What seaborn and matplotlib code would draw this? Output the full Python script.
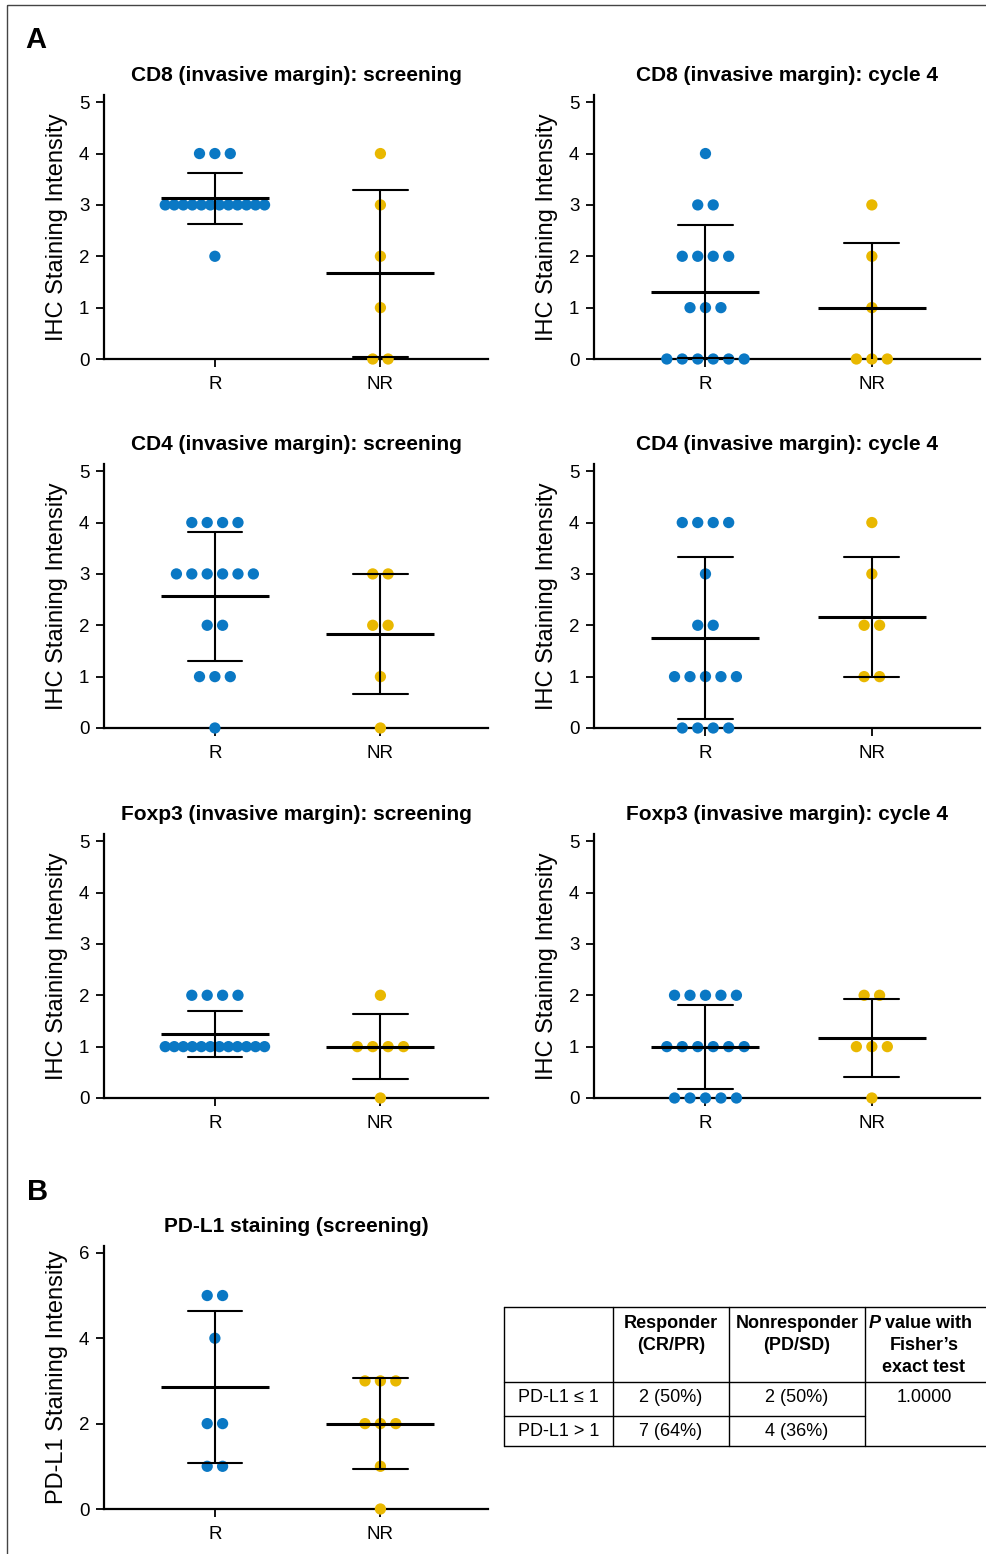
import numpy as np
import pandas as pd
import matplotlib
matplotlib.use("Agg")
import matplotlib.pyplot as plt
from matplotlib.patches import Rectangle
import seaborn as sns

# values
groups = ["R", "NR"]

cd8_screen_r = [4, 4, 4, 3, 3, 3, 3, 3, 3, 3, 3, 3, 3, 3, 3, 2]
cd8_screen_nr = [4, 3, 2, 1, 0, 0]
cd8_c4_r = [4, 3, 3, 2, 2, 2, 2, 1, 1, 1, 0, 0, 0, 0, 0, 0]
cd8_c4_nr = [3, 2, 1, 0, 0, 0]
cd4_screen_r = [4, 4, 4, 4, 3, 3, 3, 3, 3, 3, 2, 2, 1, 1, 1, 0]
cd4_screen_nr = [3, 3, 2, 2, 1, 0]
cd4_c4_r = [4, 4, 4, 4, 3, 2, 2, 1, 1, 1, 1, 1, 0, 0, 0, 0]
cd4_c4_nr = [4, 3, 2, 2, 1, 1]
foxp3_screen_r = [2, 2, 2, 2, 1, 1, 1, 1, 1, 1, 1, 1, 1, 1, 1, 1]
foxp3_screen_nr = [2, 1, 1, 1, 1, 0]
foxp3_c4_r = [2, 2, 2, 2, 2, 1, 1, 1, 1, 1, 1, 0, 0, 0, 0, 0]
foxp3_c4_nr = [2, 2, 1, 1, 1, 0]
pdl1_r = [5, 5, 4, 2, 2, 1, 1]
pdl1_nr = [3, 3, 3, 2, 2, 2, 1, 0]

titles_a = [
    "CD8 (invasive margin): screening", "CD8 (invasive margin): cycle 4",
    "CD4 (invasive margin): screening", "CD4 (invasive margin): cycle 4",
    "Foxp3 (invasive margin): screening", "Foxp3 (invasive margin): cycle 4",
]
title_b = "PD-L1 staining (screening)"

# table in panel B
table_header = [["Responder", "(CR/PR)"], ["Nonresponder", "(PD/SD)"],
                ["value with", "Fisher\u2019s", "exact test"]]
table_rows = ["PD-L1 \u2264 1", "PD-L1 > 1"]
table_resp = ["2 (50%)", "7 (64%)"]
table_nonresp = ["2 (50%)", "4 (36%)"]
p_value = "1.0000"

BLUE = "#0a78c4"
YELLOW = "#e9b800"
palette = {"R": BLUE, "NR": YELLOW}

sns.set_style("ticks")
plt.rcParams["font.family"] = ["Liberation Sans", "DejaVu Sans"]
plt.rcParams["text.color"] = "black"
plt.rcParams["axes.labelcolor"] = "black"
plt.rcParams["xtick.color"] = "black"
plt.rcParams["ytick.color"] = "black"

W, H = 986, 1554
fig = plt.figure(figsize=(W / 100, H / 100), dpi=100)


def px_axes(left, top, right, bottom):
    return fig.add_axes([left / W, 1 - bottom / H, (right - left) / W, (bottom - top) / H])


def spread(df, step=0.093, max_span=0.6):
    # GraphPad-like scatter: equal values side by side, squeezed when crowded
    off = np.zeros(len(df))
    for _, idx in df.groupby(["pos", "value"]).groups.items():
        n = len(idx)
        d = step if n < 2 else min(step, max_span / (n - 1))
        off[df.index.get_indexer(idx)] = (np.arange(n) - (n - 1) / 2) * d
    return df["pos"] + off


def draw(ax, r_vals, nr_vals, title, ylabel, yticks, ytop):
    df = pd.DataFrame({"group": ["R"] * len(r_vals) + ["NR"] * len(nr_vals),
                       "value": r_vals + nr_vals})
    df["pos"] = df["group"].map({"R": 0, "NR": 1})
    df["x"] = spread(df)

    sns.scatterplot(data=df, x="x", y="value", hue="group", palette=palette,
                    s=66, linewidth=0, legend=False, clip_on=False, zorder=2.6, ax=ax)
    sns.pointplot(data=df, x="pos", y="value", native_scale=True, orient="x",
                  errorbar="sd", capsize=0.33, color="black", marker="_",
                  markersize=78, markeredgewidth=2.2, linestyle="none", zorder=3,
                  err_kws={"linewidth": 1.5, "zorder": 3}, ax=ax)

    ax.set_xlim(-0.67, 1.65)
    ax.set_ylim(0, ytop)
    ax.set_xticks([0, 1], groups)
    ax.set_yticks(yticks)
    ax.set_xlabel("")
    ax.set_ylabel(ylabel, fontsize=17, color="black")
    ax.yaxis.set_label_coords(-0.094, 0.5)
    ax.set_title(title, fontsize=15, fontweight="bold", pad=10, color="black")
    sns.despine(ax=ax)
    for s in ["left", "bottom"]:
        ax.spines[s].set_linewidth(1.6)
        ax.spines[s].set_color("black")
    ax.tick_params(direction="out", length=5.5, width=1.3, color="black",
                   labelsize=13.5, labelcolor="black")
    ax.tick_params(axis="x", pad=7)
    ax.tick_params(axis="y", pad=5)


panel_a = [
    (cd8_screen_r, cd8_screen_nr), (cd8_c4_r, cd8_c4_nr),
    (cd4_screen_r, cd4_screen_nr), (cd4_c4_r, cd4_c4_nr),
    (foxp3_screen_r, foxp3_screen_nr), (foxp3_c4_r, foxp3_c4_nr),
]
rows_px = [(95, 359), (464, 728), (834, 1098)]
cols_px = [(104, 488), (594, 980)]

for i, (r_vals, nr_vals) in enumerate(panel_a):
    top, bottom = rows_px[i // 2]
    left, right = cols_px[i % 2]
    ax = px_axes(left, top, right, bottom)
    draw(ax, r_vals, nr_vals, titles_a[i], "IHC Staining Intensity",
         [0, 1, 2, 3, 4, 5], 5.14)

ax_b = px_axes(104, 1246, 488, 1509)
draw(ax_b, pdl1_r, pdl1_nr, title_b, "PD-L1 Staining Intensity", [0, 2, 4, 6], 6.16)

# overlay in pixel coordinates: frame, panel letters, table
ov = fig.add_axes([0, 0, 1, 1])
ov.set_xlim(0, W)
ov.set_ylim(H, 0)
ov.axis("off")

ov.add_patch(Rectangle((7, 5), 1100, 1600, fill=False, edgecolor="#444444", linewidth=1))
ov.text(25, 48, "A", fontsize=21, fontweight="bold", ha="left", va="baseline")
ov.text(27, 1200, "B", fontsize=21, fontweight="bold", ha="left", va="baseline")

col_x = [504, 613, 729, 865, 1000]
row_y = [1307, 1382, 1416, 1446]
lw = 1.0
for y in [row_y[0], row_y[1], row_y[3]]:
    ov.plot([col_x[0], col_x[-1]], [y, y], color="black", lw=lw)
ov.plot([col_x[0], col_x[3]], [row_y[2], row_y[2]], color="black", lw=lw)
for x in col_x[:4]:
    ov.plot([x, x], [row_y[0], row_y[3]], color="black", lw=lw)

centers = [(col_x[j] + col_x[j + 1]) / 2 for j in range(3)] + [924]
for j, lines in enumerate(table_header):
    cx = centers[j + 1]
    for k, line in enumerate(lines):
        y = 1323 + 22 * k
        if j == 2 and k == 0:
            ov.text(881, y, "P", fontsize=13, fontweight="bold", style="italic",
                    ha="right", va="center")
            ov.text(885, y, line, fontsize=13, fontweight="bold", ha="left", va="center")
        else:
            ov.text(cx, y, line, fontsize=13, fontweight="bold", ha="center", va="center")

row_centers = [1398, 1431]
for i in range(2):
    ov.text(centers[0], row_centers[i], table_rows[i], fontsize=13, ha="center", va="center")
    ov.text(centers[1], row_centers[i], table_resp[i], fontsize=13, ha="center", va="center")
    ov.text(centers[2], row_centers[i], table_nonresp[i], fontsize=13, ha="center", va="center")
ov.text(centers[3], row_centers[0], p_value, fontsize=13, ha="center", va="center")

fig.savefig("out.png", dpi=100)
